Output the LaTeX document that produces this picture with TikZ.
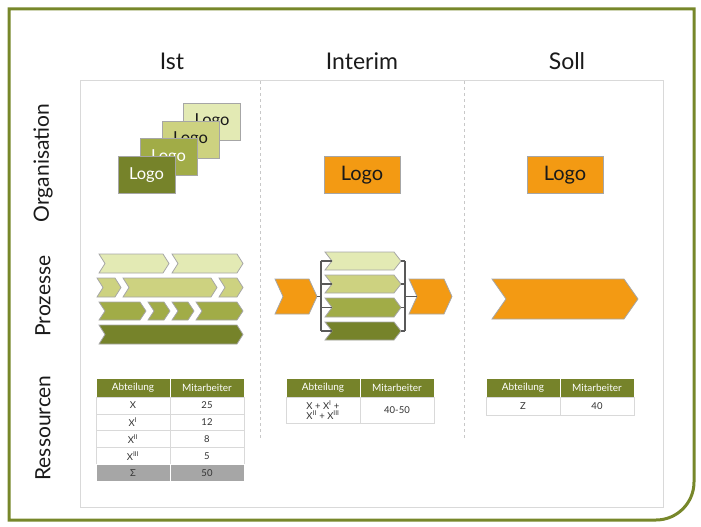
\documentclass[tikz,border=0pt]{standalone}
\usepackage{fontspec}
\setmainfont{Lato}

\definecolor{olivedark}{HTML}{76832A}
\definecolor{olivemid}{HTML}{A1AC47}
\definecolor{olivelight}{HTML}{CDD280}
\definecolor{olivepale}{HTML}{E3EAB4}
\definecolor{logoorange}{HTML}{F39A13}
\definecolor{edgegray}{HTML}{A6A6A6}
\definecolor{framegreen}{HTML}{77872A}
\definecolor{boxgray}{HTML}{D9D9D9}
\definecolor{divgray}{HTML}{C8C8C8}
\definecolor{sumgray}{HTML}{A6A6A6}
\definecolor{bracketgray}{HTML}{595959}
\definecolor{headblack}{HTML}{1A1A1A}
\definecolor{tabtext}{HTML}{333333}

% chevron: x left, x right, y top, y bottom, depth, colour
\newcommand{\chevron}[6]{%
  \draw[chevline,fill=#6] (#1,#3) -- ({#2-#5},#3) -- (#2,{(#3+#4)/2})
    -- ({#2-#5},#4) -- (#1,#4) -- ({#1+#5},{(#3+#4)/2}) -- cycle;}

\begin{document}
\begin{tikzpicture}[x=1pt,y=-1pt,
    chevline/.style={draw=edgegray,line width=0.8pt},
    logobox/.style={draw=edgegray,line width=0.8pt,minimum width=57,minimum height=37,
      inner sep=0pt,font=\fontsize{16.5}{18}\selectfont},
    colhead/.style={font=\fontsize{23}{27}\selectfont,text=headblack,anchor=base},
    rowhead/.style={font=\fontsize{21}{25}\selectfont,text=headblack,rotate=90},
    thead/.style={draw=white,fill=olivedark,text=white,minimum width=74,minimum height=19,
      inner sep=0pt,font=\fontsize{10}{11}\selectfont},
    tcell/.style={draw=boxgray,fill=white,text=tabtext,minimum width=74,inner sep=0pt,
      align=center,font=\fontsize{9.5}{10.5}\selectfont},
    bracket/.style={draw=bracketgray,line width=1.2pt},
    divider/.style={draw=divgray,dashed,line width=0.8pt}]
  \useasboundingbox (0,0) rectangle (701,527);

  % frame
  \draw[framegreen,line width=3pt] (9,9) -- (694,9) -- (694,482)
    .. controls (694,503) and (677,520) .. (656,520) -- (9,520) -- cycle;
  \draw[boxgray,line width=1pt] (80,80) rectangle (663,507);
  \draw[divider] (260,81) -- (260,438);
  \draw[divider] (464,81) -- (464,438);

  % headings
  \node[colhead] (ist) at (172,70) {Ist};
  \node[colhead] (interim) at (362,70) {Interim};
  \node[colhead] (soll) at (567,70) {Soll};
  \node[rowhead] (organisation) at (43,163) {Organisation};
  \node[rowhead] (prozesse) at (43,296) {Prozesse};
  \node[rowhead] (ressourcen) at (43,428) {Ressourcen};

  % Organisation
  \foreach \n/\cx/\cy/\col/\tcol in {1/212/121.5/olivepale/headblack,
      2/190.5/139.5/olivelight/headblack, 3/168.5/157/olivemid/white,
      4/146.5/175/olivedark/white}
    \node[logobox,fill=\col,text=\tcol] (logo\n) at (\cx,\cy) {Logo};
  \node[logobox,minimum width=76,fill=logoorange,text=headblack,
    font=\fontsize{20}{22}\selectfont] (logoInterim) at (362,175) {Logo};
  \node[logobox,minimum width=76,fill=logoorange,text=headblack,
    font=\fontsize{20}{22}\selectfont] (logoSoll) at (565,175) {Logo};

  % Prozesse, Ist
  \foreach \a/\b in {99/169,172/243} {\chevron{\a}{\b}{254}{273}{6}{olivepale}}
  \foreach \a/\b in {97/121,123/217,219/243} {\chevron{\a}{\b}{278}{297}{6}{olivelight}}
  \foreach \a/\b in {99/146,148/170,172/194,196/243} {\chevron{\a}{\b}{302}{320}{6}{olivemid}}
  \chevron{99}{243}{325}{344}{6}{olivedark}

  % Prozesse, Interim
  \chevron{275}{317}{279}{314}{8}{logoorange}
  \chevron{409}{452}{279}{314}{8}{logoorange}
  \coordinate (tipL) at (317,296.5);
  \coordinate (notchR) at (417,296.5);
  \coordinate (lbus) at (321,0);
  \coordinate (rbus) at (405,0);
  \foreach \i/\yt/\yb/\col in {1/252/270/olivepale,2/275/293/olivelight,
      3/298/317/olivemid,4/322/340/olivedark} {
    \chevron{325}{401}{\yt}{\yb}{7}{\col}
    \coordinate (in\i) at (332,{(\yt+\yb)/2});
    \coordinate (out\i) at (401,{(\yt+\yb)/2});
  }
  \draw[bracket] (lbus |- in1) -- (lbus |- in4);
  \draw[bracket] (rbus |- out1) -- (rbus |- out4);
  \foreach \i in {1,...,4} {
    \draw[bracket] (lbus |- in\i) -- (in\i);
    \draw[bracket] (out\i) -- (rbus |- out\i);
  }
  \draw[bracket] (tipL) -- (lbus |- tipL);
  \draw[bracket] (rbus |- notchR) -- (notchR);

  % Prozesse, Soll
  \chevron{492}{638}{279}{319}{14}{logoorange}

  % Ressourcen, Ist
  \node[thead] (istA) at (133,387.5) {Abteilung};
  \node[thead] (istM) at (207,387.5) {Mitarbeiter};
  \foreach \r/\a/\b in {0/X/25,1/X\textsuperscript{I}/12,2/X\textsuperscript{II}/8,
      3/X\textsuperscript{III}/5} {
    \node[tcell,minimum height=16.8] (ist\r a) at (133,{405.4+16.8*\r}) {\a};
    \node[tcell,minimum height=16.8] (ist\r b) at (207,{405.4+16.8*\r}) {\b};
  }
  \node[tcell,fill=sumgray,draw=white,minimum height=16.8] (istSa) at (133,472.6) {Σ};
  \node[tcell,fill=sumgray,draw=white,minimum height=16.8] (istSb) at (207,472.6) {50};

  % Ressourcen, Interim
  \node[thead] (intA) at (323,387.5) {Abteilung};
  \node[thead] (intM) at (397,387.5) {Mitarbeiter};
  \node[tcell,minimum height=26] (intXa) at (323,410) {X + X\textsuperscript{I} +\\
    X\textsuperscript{II} + X\textsuperscript{III}};
  \node[tcell,minimum height=26] (intXb) at (397,410) {40-50};

  % Ressourcen, Soll
  \node[thead] (sollA) at (523,387.5) {Abteilung};
  \node[thead] (sollM) at (597,387.5) {Mitarbeiter};
  \node[tcell,minimum height=18] (sollZa) at (523,406) {Z};
  \node[tcell,minimum height=18] (sollZb) at (597,406) {40};
\end{tikzpicture}
\end{document}
